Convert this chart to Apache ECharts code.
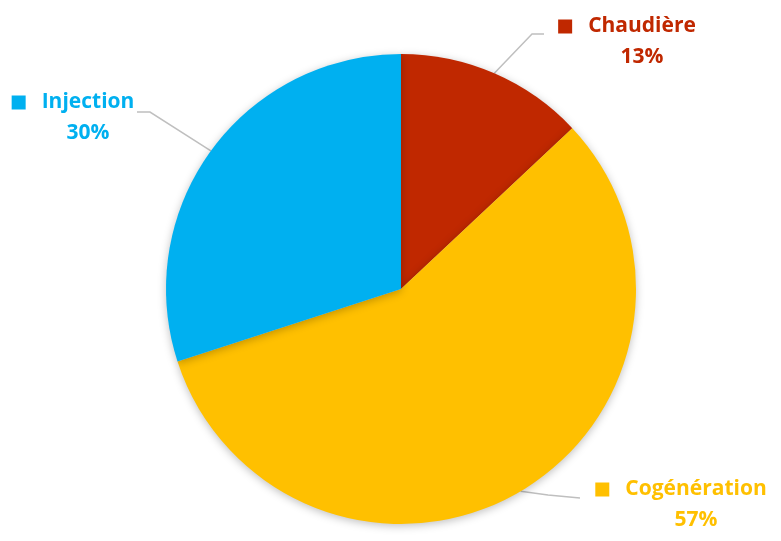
<!DOCTYPE html>
<html><head><meta charset="utf-8">
<script src="https://cdn.jsdelivr.net/npm/echarts@6/dist/echarts.min.js"></script>
<style>html,body{margin:0;padding:0;background:#fff}#c{width:781px;height:541px}</style>
</head><body><div id="c"></div>
<script>
const categories = ['Chaudière', 'Cogénération', 'Injection'];
const values = [13, 57, 30];
const colors = ['#C02800', '#FFC000', '#00B0F0'];

const labelPos = [
  {x: 627, y: 42, line: [[532, 34], [544, 34]]},
  {x: 681, y: 505, line: [[548, 495], [580, 498]]},
  {x: 73, y: 118, line: [[150, 112], [137, 112]]}
];

const chart = echarts.init(document.getElementById('c'), null, {renderer: 'canvas'});
const FONT = 'Open Sans';
chart.setOption({
  animation: false,
  series: [{
    type: 'pie',
    center: [401, 289],
    radius: 235,
    startAngle: 90,
    clockwise: true,
    data: categories.map((n, i) => ({
      name: n, value: values[i],
      itemStyle: {color: colors[i]},
      label: {
        rich: {
          sq: {width: 14, height: 14, backgroundColor: colors[i]},
          g: {width: 16},
          sp: {width: 30},
          name: {color: colors[i], fontSize: 21, fontWeight: 'bold', fontFamily: FONT, lineHeight: 31},
          pct: {color: colors[i], fontSize: 21, fontWeight: 'bold', fontFamily: FONT, lineHeight: 31}
        }
      }
    })),
    itemStyle: {shadowBlur: 8, shadowColor: 'rgba(0,0,0,0.25)', shadowOffsetY: 2},
    label: {
      show: true,
      position: 'outside',
      formatter: p => '{sq|}{g|}{name|' + p.name + '}\n{sp|}{pct|' + p.value + '%}',
      align: 'center'
    },
    labelLine: {show: true, lineStyle: {color: '#BFBFBF', width: 1.5}},
    emphasis: {disabled: true}
  }]
});
chart.setOption({
  series: [{
    labelLayout: function (params) {
      const lp = labelPos[params.dataIndex];
      const start = params.labelLinePoints ? params.labelLinePoints[0] : lp.line[0];
      return {
        x: lp.x, y: lp.y, align: 'center', verticalAlign: 'middle',
        labelLinePoints: [start].concat(lp.line)
      };
    }
  }]
});
</script></body></html>
